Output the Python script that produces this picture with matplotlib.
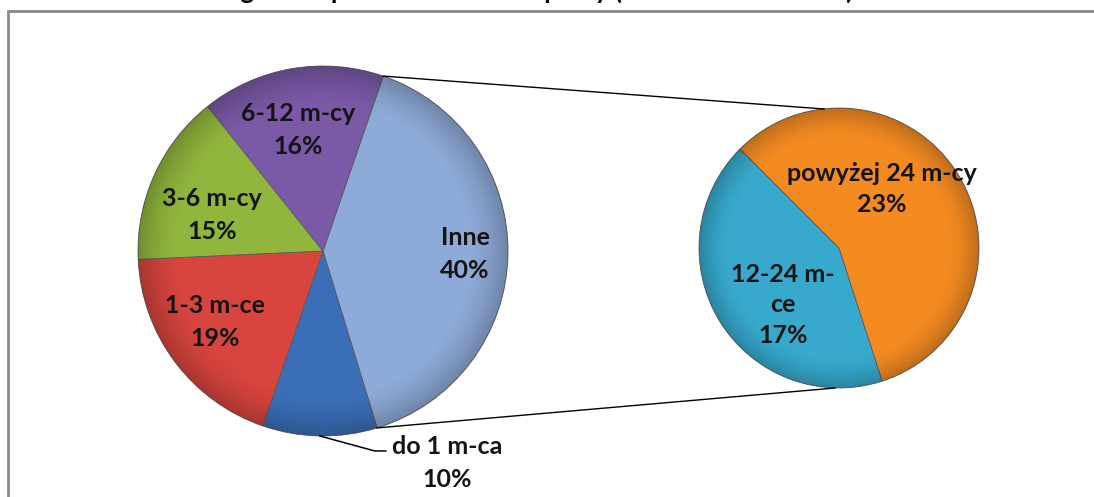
import numpy as np
import matplotlib.pyplot as plt
from matplotlib.patches import Circle

W, H = 1094, 497

TITLE = "Bezrobotni wg czasu pozostawania bez pracy (stan na 31.12.2011)"

MAIN_LABELS = ["Inne", "do 1 m-ca", "1-3 m-ce", "3-6 m-cy", "6-12 m-cy"]
MAIN_VALUES = [40, 10, 19, 15, 16]
MAIN_COLORS = ["#8eaad8", "#3a6fb7", "#d8443e", "#91b63d", "#7a59a6"]

SUB_LABELS = ["12-24 m-\nce", "powyżej 24 m-cy"]
SUB_VALUES = [17, 23]
SUB_COLORS = ["#37a9cd", "#f38b21"]

TXT = "#141414"
FONT = dict(family="Lato", weight="bold", fontsize=18, color=TXT, linespacing=1.55)


def shade(ax, center, r):
    # darker rim, like the bevel in the original
    n = 300
    xs = np.linspace(-1, 1, n)
    xx, yy = np.meshgrid(xs, xs)
    d = np.sqrt(xx ** 2 + yy ** 2)
    a = 0.22 * np.clip((d - 0.78) / 0.22, 0, 1) ** 1.6
    img = np.zeros((n, n, 4))
    img[..., 3] = a
    im = ax.imshow(img, extent=(center[0] - r, center[0] + r, center[1] - r, center[1] + r),
                   origin="lower", zorder=3, interpolation="bilinear")
    im.set_clip_path(Circle(center, r, transform=ax.transData))


fig = plt.figure(figsize=(W / 100, H / 100), dpi=100)
ax = fig.add_axes([0, 0, 1, 1])

main_c = (323, H - 251)
main_r = 185
sub_c = (839, H - 248)
sub_r = 140

w1, _ = ax.pie(MAIN_VALUES, colors=MAIN_COLORS, startangle=71, counterclock=False,
               center=main_c, radius=main_r, frame=True,
               wedgeprops=dict(edgecolor="#5a5a5a", linewidth=0.6))
w2, _ = ax.pie(SUB_VALUES, colors=SUB_COLORS, startangle=135, counterclock=True,
               center=sub_c, radius=sub_r, frame=True,
               wedgeprops=dict(edgecolor="#5a5a5a", linewidth=0.6))
shade(ax, main_c, main_r)
shade(ax, sub_c, sub_r)

# label centres in image pixels (None = outside label with leader line)
main_pos = [(465, 254), None, (215, 322), (212, 215), (298, 130)]
for w, lab, val, pos in zip(w1, MAIN_LABELS, MAIN_VALUES, main_pos):
    if pos is None:
        mid = np.deg2rad((w.theta1 + w.theta2) / 2)
        ex = main_c[0] + main_r * np.cos(mid)
        ey = main_c[1] + main_r * np.sin(mid)
        ax.plot([ex, ex + 55, ex + 66], [ey, ey - 15, ey - 15], color="black", lw=1.1, zorder=4)
        ax.text(ex + 127, ey - 27, f"{lab}\n{val}%", ha="center", va="center", zorder=5, **FONT)
        continue
    ax.text(pos[0], H - pos[1], f"{lab}\n{val}%", ha="center", va="center", zorder=5, **FONT)

# labels in the second pie
sub_pos = [(783, 305), (882, 189)]
for (x, y), lab, val in zip(sub_pos, SUB_LABELS, SUB_VALUES):
    ax.text(x, H - y, f"{lab}\n{val}%", ha="center", va="center", zorder=5,
            **{**FONT, "linespacing": 1.4})

# connector lines from the split slice to the second pie
split = w1[0]
pts = []
for t in (split.theta1, split.theta2):
    t = np.deg2rad(t)
    pts.append((main_c[0] + main_r * np.cos(t), main_c[1] + main_r * np.sin(t)))
pts.sort(key=lambda p: p[1])
ax.plot([pts[1][0], sub_c[0] - 15], [pts[1][1], sub_c[1] + sub_r - 1], color="black", lw=1.0, zorder=1)
ax.plot([pts[0][0], sub_c[0] - 4], [pts[0][1], sub_c[1] - sub_r], color="black", lw=1.0, zorder=1)

# chart area frame (cut off at right and bottom)
ax.plot([8, 8, W + 5], [-5, H - 11, H - 11], color="#8a8a8a", lw=2.0, solid_joinstyle="miter", zorder=6)

# title, mostly cut off at the top
fig.text(84 / W, (H + 1.5) / H, TITLE, ha="left", va="baseline",
         family="Lato", weight="bold", fontsize=18.8, color="black")

ax.set_xlim(0, W)
ax.set_ylim(0, H)
ax.set_aspect("equal")
ax.axis("off")

fig.savefig("out.png", dpi=100)
